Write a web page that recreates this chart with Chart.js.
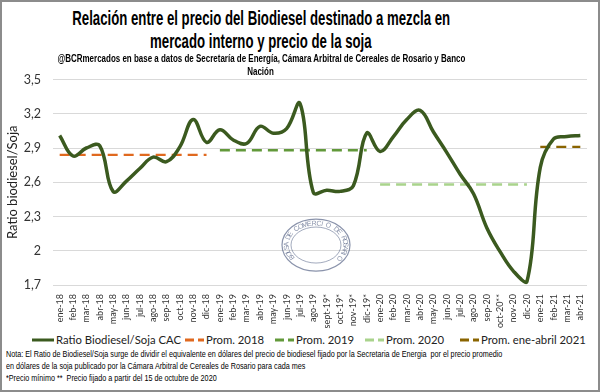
<!DOCTYPE html>
<html>
<head>
<meta charset="utf-8">
<script src="https://cdn.jsdelivr.net/npm/chart.js@4.4.0/dist/chart.umd.min.js"></script>
<style>
  body { margin: 0; background: #fff; }
  #frame { position: relative; width: 600px; height: 392px; box-sizing: border-box; border: 2px solid #8c8c8c; overflow: hidden; font-family: 'Liberation Sans', sans-serif; }
  .title { position: absolute; left: -141px; width: 800px; text-align: center; font-weight: bold; color: #000; white-space: nowrap; z-index: 2; }
  .title span { display: inline-block; }
  #t1 { top: 5px; font-size: 20px; }
  #t2 { top: 28px; font-size: 20px; }
  #t1 span, #t2 span { transform: scaleX(0.66); }
  #s1 { top: 50px; font-size: 10.5px; }
  #s2 { top: 63px; font-size: 10.5px; }
  #s1 span, #s2 span { transform: scaleX(0.76); }
  #chartBox { position: absolute; left: 0; top: 58px; width: 596px; height: 272px; }
  #legend { position: absolute; left: 0; top: 330px; width: 596px; height: 16px; font-family: Lato, sans-serif; font-size: 11.3px; color: #222; }
  .item { position: absolute; top: 0; white-space: nowrap; line-height: 16px; }
  .item svg { vertical-align: middle; margin-right: 2px; position: relative; top: -1px; }
  #note { position: absolute; left: 4px; top: 347px; font-size: 8.6px; line-height: 11.8px; color: #000; white-space: nowrap; transform: scaleX(0.84); transform-origin: left top; }
</style>
</head>
<body>
<div id="frame">
  <div class="title" id="t1"><span>Relación entre el precio del Biodiesel destinado a mezcla en</span></div>
  <div class="title" id="t2"><span>mercado interno y precio de la soja</span></div>
  <div class="title" id="s1"><span>@BCRmercados en base a datos de Secretaría de Energía, Cámara Arbitral de Cereales de Rosario y Banco</span></div>
  <div class="title" id="s2"><span>Nación</span></div>
  <div id="chartBox"><canvas id="ratio-chart"></canvas></div>
  <div id="legend"></div>
  <div id="note">Nota: El Ratio de Biodiesel/Soja surge de dividir el equivalente en dólares del precio de biodiesel fijado por la Secretaria de Energia &nbsp;por el precio promedio<br>en dólares de la soja publicado por la Cámara Arbitral de Cereales de Rosario para cada mes<br>*Precio mínimo ** &nbsp;Precio fijado a partir del 15 de octubre de 2020</div>
</div>
<script>
// --- DATA ---
const months = ['ene-18', 'feb-18', 'mar-18', 'abr-18', 'may-18', 'jun-18', 'jul-18', 'ago-18', 'sep-18', 'oct-18', 'nov-18', 'dic-18',
    'ene-19', 'feb-19', 'mar-19', 'abr-19', 'may-19', 'jun-19', 'jul-19', 'ago-19', 'sept-19*', 'oct-19*', 'nov-19*', 'dic-19*',
    'ene-20', 'feb-20', 'mar-20', 'abr-20', 'may-20', 'jun-20', 'jul-20', 'ago-20', 'sep-20', 'oct-20**', 'nov-20', 'dic-20',
    'ene-21', 'feb-21', 'mar-21', 'abr-21'];
const ratio = [3.01, 2.83, 2.90, 2.92, 2.52, 2.61, 2.72, 2.82, 2.78, 2.91, 3.15, 2.95,
    3.06, 2.97, 2.94, 3.09, 3.03, 3.07, 3.29, 2.51, 2.53, 2.52, 2.57, 3.03,
    2.87, 3.00, 3.15, 3.23, 3.04, 2.86, 2.67, 2.50, 2.20, 1.99, 1.82, 1.73,
    2.73, 2.98, 3.00, 3.01];
const avg2018 = 2.84;
const avg2019 = 2.88;
const avg2020 = 2.58;
const avg2021 = 2.91;
const yTicks = [1.7, 2, 2.3, 2.6, 2.9, 3.2, 3.5];

// spread a yearly average over the months of that year, null elsewhere
function yearLine(value, from, to) {
    return months.map((m, i) => (i >= from && i <= to) ? value : null);
}

const SERIES = [
    { label: 'Ratio Biodiesel/Soja CAC', data: ratio, color: '#3b5a1f', dash: [], width: 3.5, tension: 0.4 },
    { label: 'Prom. 2018', data: yearLine(avg2018, 0, 11), color: '#e0691f', dash: [10, 6], width: 2.4, tension: 0 },
    { label: 'Prom. 2019', data: yearLine(avg2019, 12, 23), color: '#62993a', dash: [10, 6], width: 2.4, tension: 0 },
    { label: 'Prom. 2020', data: yearLine(avg2020, 24, 35), color: '#a9d38c', dash: [10, 6], width: 2.4, tension: 0 },
    { label: 'Prom. ene-abril 2021', data: yearLine(avg2021, 36, 39), color: '#8a6400', dash: [10, 6], width: 2.4, tension: 0 }
];

// --- LEGEND (html, one row like the Excel original) ---
const LEGEND_LEFT = [30, 183, 273, 363, 458];
const legendBox = document.getElementById('legend');
SERIES.forEach((s, i) => {
    const solid = s.dash.length === 0;
    const w = solid ? 22 : 19;
    const item = document.createElement('div');
    item.className = 'item';
    item.style.left = LEGEND_LEFT[i] + 'px';
    item.innerHTML = `<svg width="${w}" height="6"><line x1="0" y1="3" x2="${w}" y2="3" stroke="${s.color}" stroke-width="3"
        ${solid ? '' : 'stroke-dasharray="9 4 6"'}/></svg>${s.label}`;
    legendBox.appendChild(item);
});

// --- WATERMARK (faint exchange seal) ---
const sealPlugin = {
    id: 'seal',
    beforeDatasetsDraw(chart) {
        const { ctx, scales: { x, y } } = chart;
        const cx = x.getPixelForValue(19.2);
        const cy = y.getPixelForValue(2.05);
        ctx.save();
        ctx.strokeStyle = 'rgba(60, 75, 115, 0.6)';
        ctx.lineWidth = 1.2;
        ctx.beginPath();
        ctx.ellipse(cx, cy, 34, 26, 0, 0, Math.PI * 2);
        ctx.stroke();
        ctx.lineWidth = 0.8;
        ctx.beginPath();
        ctx.ellipse(cx, cy, 25, 18, 0, 0, Math.PI * 2);
        ctx.stroke();
        ctx.fillStyle = 'rgba(60, 75, 115, 0.6)';
        ctx.font = '7px "Liberation Sans"';
        const txt = 'BOLSA DE COMERCIO DE ROSARIO';
        const start = Math.PI * 0.8, end = Math.PI * 2.2;
        for (let i = 0; i < txt.length; i++) {
            const a = start + (end - start) * i / (txt.length - 1);
            ctx.save();
            ctx.translate(cx + Math.cos(a) * 30, cy + Math.sin(a) * 22);
            ctx.rotate(a + Math.PI / 2);
            ctx.fillText(txt[i], -2, 2.5);
            ctx.restore();
        }
        ctx.restore();
    }
};

const ctx = document.getElementById('ratio-chart').getContext('2d');
new Chart(ctx, {
    type: 'line',
    data: {
        labels: months,
        datasets: SERIES.map(s => ({
            label: s.label,
            data: s.data,
            borderColor: s.color,
            backgroundColor: s.color,
            borderWidth: s.width,
            borderDash: s.dash,
            tension: s.tension,
            pointRadius: 0,
            fill: false,
            spanGaps: false
        }))
    },
    options: {
        responsive: true,
        maintainAspectRatio: false,
        animation: false,
        layout: { padding: { top: 2, right: 11, left: 0, bottom: 0 } },
        plugins: {
            tooltip: { enabled: false },
            legend: { display: false }
        },
        scales: {
            x: {
                offset: true,
                grid: { display: false },
                border: { display: false },
                ticks: {
                    autoSkip: false,
                    maxRotation: 90,
                    minRotation: 90,
                    padding: 1,
                    color: '#333',
                    font: { family: 'Lato', size: 9 }
                },
                afterFit: (scale) => { scale.height = 47; }
            },
            y: {
                min: 1.7,
                max: 3.5,
                afterBuildTicks: (scale) => { scale.ticks = yTicks.map(v => ({ value: v })); },
                grid: { color: '#d9d9d9', lineWidth: 1, drawTicks: false },
                border: { display: false },
                ticks: {
                    padding: 12,
                    color: '#333',
                    font: { family: 'Lato', size: 12.5 },
                    callback: (v) => String(Math.round(v * 10) / 10).replace('.', ',')
                },
                title: {
                    display: true,
                    text: 'Ratio biodiesel/Soja',
                    color: '#222',
                    font: { family: 'Lato', size: 13 },
                    padding: { top: 3, bottom: 4 }
                },
                afterFit: (scale) => { scale.width = 51; }
            }
        }
    },
    plugins: [sealPlugin]
});
</script>
</body>
</html>
